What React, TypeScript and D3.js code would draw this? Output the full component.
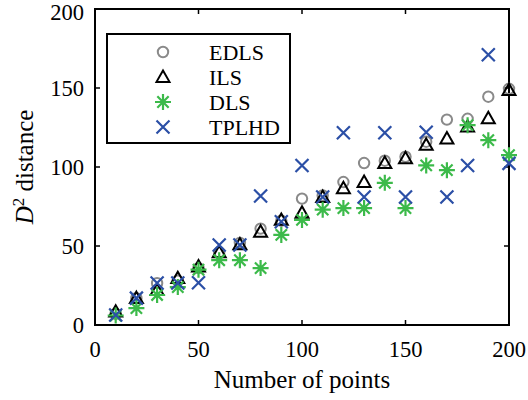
import React from "react";
import * as d3 from "d3";

const xValues = [10, 20, 30, 40, 50, 60, 70, 80, 90, 100, 110, 120, 130, 140, 150, 160, 170, 180, 190, 200];
const edls = [7, 17, 26.5, 28, 36, 46, 52, 61, 66, 80, 82, 90.5, 102.5, 104, 106.5, 116, 130, 130.5, 144.5, 149.5];
const ils = [8.4, 17, 22, 29.6, 37, 46, 51, 59, 66.5, 71, 81, 86.5, 90.5, 102.5, 105.5, 114, 118, 125.5, 130.8, 148.7];
const dls = [6, 10.7, 19, 24, 35, 41, 41, 36, 57, 66.5, 73, 74, 74, 90, 74, 101, 98, 126.5, 117, 107.5];
const tplhd = [6.3, 17, 26.6, 26.6, 26.8, 50.6, 50.6, 81.6, 65.4, 101, 81, 121.7, 81, 121.7, 81, 122, 81, 101, 171, 102.3];
const seriesNames = ["EDLS", "ILS", "DLS", "TPLHD"];
const xTicks = [0, 50, 100, 150, 200];
const yTicks = [0, 50, 100, 150, 200];

const W = 528, H = 400;
const left = 95, right = 509, top = 9, bottom = 325;
const FONT = "'Liberation Serif', 'Times New Roman', serif";

const colors = {
  EDLS: "#8a8a8a",
  ILS: "#000000",
  DLS: "#3cba4a",
  TPLHD: "#2b4fa6",
};

function Marker({ kind, x, y }: { kind: string; x: number; y: number }) {
  if (kind === "EDLS") {
    return <circle cx={x} cy={y} r={5.2} fill="none" stroke={colors.EDLS} strokeWidth={2} />;
  }
  if (kind === "ILS") {
    const s = 6.5;
    const p = `M${x},${y - s} L${x + s},${y + s * 0.75} L${x - s},${y + s * 0.75} Z`;
    return <path d={p} fill="none" stroke={colors.ILS} strokeWidth={2} strokeLinejoin="miter" />;
  }
  if (kind === "DLS") {
    const s = 8;
    const d2 = s * 0.7071;
    const p = `M${x - s},${y} L${x + s},${y} M${x},${y - s} L${x},${y + s} M${x - d2},${y - d2} L${x + d2},${y + d2} M${x - d2},${y + d2} L${x + d2},${y - d2}`;
    return <path d={p} fill="none" stroke={colors.DLS} strokeWidth={2.2} />;
  }
  const s = 6.5;
  const p = `M${x - s},${y - s} L${x + s},${y + s} M${x - s},${y + s} L${x + s},${y - s}`;
  return <path d={p} fill="none" stroke={colors.TPLHD} strokeWidth={2.2} />;
}

export default function App() {
  const x = d3.scaleLinear().domain([0, 200]).range([left, right]);
  const y = d3.scaleLinear().domain([0, 200]).range([bottom, top]);
  const data: [string, number[]][] = [
    ["EDLS", edls],
    ["ILS", ils],
    ["DLS", dls],
    ["TPLHD", tplhd],
  ];
  const legendRows = [52, 77, 102, 127];
  const tickLen = 5;
  return (
    <svg width={W} height={H} style={{ position: "absolute", left: 0, top: 0 }} fontFamily={FONT}>
      <rect x={0} y={0} width={W} height={H} fill="#fff" />
      {xTicks.map((t) => (
        <g key={"xt" + t}>
          <line x1={x(t)} x2={x(t)} y1={bottom} y2={bottom - tickLen} stroke="#000" strokeWidth={1.5} />
          <line x1={x(t)} x2={x(t)} y1={top} y2={top + tickLen} stroke="#000" strokeWidth={1.5} />
          <text x={x(t)} y={357} fontSize={22.5} textAnchor="middle">{t}</text>
        </g>
      ))}
      {yTicks.map((t) => (
        <g key={"yt" + t}>
          <line x1={left} x2={left + tickLen} y1={y(t)} y2={y(t)} stroke="#000" strokeWidth={1.5} />
          <line x1={right} x2={right - tickLen} y1={y(t)} y2={y(t)} stroke="#000" strokeWidth={1.5} />
          <text x={84} y={Math.max(y(t) + 7.5, 19.5)} fontSize={22.5} textAnchor="end">{t}</text>
        </g>
      ))}
      <rect x={left} y={top} width={right - left} height={bottom - top} fill="none" stroke="#000" strokeWidth={2} />
      {data.map(([name, vals]) => (
        <g key={name}>
          {vals.map((v, i) => (
            <Marker key={i} kind={name} x={x(xValues[i])} y={y(v)} />
          ))}
        </g>
      ))}
      <rect x={107} y={34} width={183} height={109} fill="#fff" stroke="#000" strokeWidth={2} />
      {seriesNames.map((n, i) => (
        <g key={"lg" + n}>
          <Marker kind={n} x={163} y={legendRows[i]} />
          <text x={209} y={legendRows[i]} dy="0.35em" fontSize={22}>{n}</text>
        </g>
      ))}
      <text x={(left + right) / 2} y={388} fontSize={25} textAnchor="middle">Number of points</text>
      <text transform={`translate(33, ${(top + bottom) / 2}) rotate(-90)`} fontSize={25} textAnchor="middle">
        <tspan fontStyle="italic">D</tspan>
        <tspan dy={-9} fontSize={17}>2</tspan>
        <tspan dy={9}> distance</tspan>
      </text>
    </svg>
  );
}
